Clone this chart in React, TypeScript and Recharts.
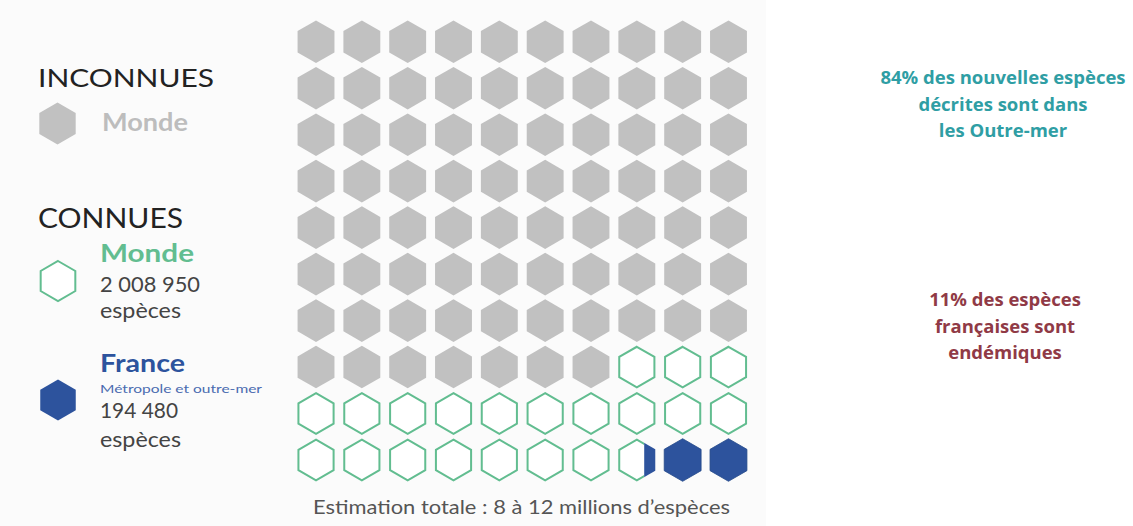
import React from 'react';
import { ScatterChart, Scatter, XAxis, YAxis } from 'recharts';

// ---- Data ----
const categories = ['Inconnues – Monde', 'Connues – Monde', 'Connues – France'];
const cellShares = [77, 20.7, 2.3]; // share of the 100 hexagons per category
const gridRows = 10;
const gridCols = 10;
const worldKnownLabel = '2 008 950';
const franceKnownLabel = '194 480';
const totalLabel = 'Estimation totale : 8 à 12 millions d’espèces';
const noteTeal = ['84% des nouvelles espèces', 'décrites sont dans', 'les Outre-mer'];
const noteRed = ['11% des espèces', 'françaises sont', 'endémiques'];

// ---- Styles ----
const GRAY = '#c1c1c1';
const GREEN = '#62bd90';
const BLUE = '#2d539d';
const HEX_R = 21.3;

type Cell = { col: number; row: number; kind: number; blueFrac: number };

// cells are filled from the bottom-right corner, leftwards then upwards
const franceEnd = cellShares[2];
const knownEnd = cellShares[2] + cellShares[1];
const cells: Cell[] = [];
for (let k = 0; k < gridRows * gridCols; k++) {
  const row = gridRows - 1 - Math.floor(k / gridCols);
  const col = gridCols - 1 - (k % gridCols);
  let kind = 0;
  let blueFrac = 0;
  if (k + 1 <= franceEnd) { kind = 2; blueFrac = 1; }
  else if (k < franceEnd) { kind = 1; blueFrac = franceEnd - k; }
  else if (k < knownEnd) kind = 1;
  else kind = 0;
  cells.push({ col, row, kind, blueFrac });
}

function hexPoints(cx: number, cy: number, r: number) {
  const pts: string[] = [];
  for (let i = 0; i < 6; i++) {
    const a = (Math.PI / 180) * (60 * i - 90);
    pts.push(`${(cx + r * Math.cos(a)).toFixed(2)},${(cy + r * Math.sin(a)).toFixed(2)}`);
  }
  return pts.join(' ');
}

const HexShape = (props: any) => {
  const { cx, cy, payload } = props;
  if (cx == null || cy == null) return null;
  const p = payload as Cell;
  const pts = hexPoints(cx, cy, HEX_R);
  const inner = hexPoints(cx, cy, HEX_R - 1);
  if (p.kind === 0) return <polygon points={pts} fill={GRAY} />;
  if (p.kind === 2) return <polygon points={pts} fill={BLUE} stroke="#244a8a" strokeWidth={0.8} />;
  if (p.blueFrac > 0) {
    const w = Math.sqrt(3) * HEX_R;
    const splitX = cx + w / 2 - w * p.blueFrac;
    const id = `clip-${p.row}-${p.col}`;
    return (
      <g>
        <defs>
          <clipPath id={id + 'l'}>
            <rect x={cx - HEX_R - 2} y={cy - HEX_R - 2} width={splitX - (cx - HEX_R - 2)} height={HEX_R * 2 + 4} />
          </clipPath>
          <clipPath id={id + 'r'}>
            <rect x={splitX} y={cy - HEX_R - 2} width={HEX_R * 2} height={HEX_R * 2 + 4} />
          </clipPath>
        </defs>
        <polygon points={inner} fill="#ffffff" stroke={GREEN} strokeWidth={2} clipPath={`url(#${id}l)`} />
        <polygon points={pts} fill={BLUE} clipPath={`url(#${id}r)`} />
      </g>
    );
  }
  return <polygon points={inner} fill="#ffffff" stroke={GREEN} strokeWidth={2} />;
};

const LegendHex = ({ cx, cy, kind }: { cx: number; cy: number; kind: number }) => {
  if (kind === 0) return <polygon points={hexPoints(cx, cy, 21)} fill={GRAY} />;
  if (kind === 2) return <polygon points={hexPoints(cx, cy, 20.5)} fill={BLUE} />;
  return <polygon points={hexPoints(cx, cy, 20)} fill="#ffffff" stroke={GREEN} strokeWidth={2} />;
};

const FONT = 'Lato, "Open Sans", sans-serif';
const NOTE_FONT = '"Open Sans", Lato, sans-serif';
const SG = 'spacingAndGlyphs';

export default function App() {
  return (
    <div style={{ position: 'absolute', left: 0, top: 0, width: 1133, height: 526, background: '#ffffff', overflow: 'hidden' }}>
      <div style={{ position: 'absolute', left: 0, top: 0, width: 766, height: 526, background: '#fbfbfb' }} />
      <div style={{ position: 'absolute', left: 0, top: 0 }}>
        <ScatterChart width={1133} height={526} margin={{ top: 18.5, right: 381.6, bottom: 42.75, left: 293.1 }}>
          <XAxis type="number" dataKey="col" domain={[-0.5, gridCols - 0.5]} hide />
          <YAxis type="number" dataKey="row" domain={[-0.5, gridRows - 0.5]} reversed hide />
          <Scatter name={categories.join(' / ')} data={cells} shape={HexShape} isAnimationActive={false} />
        </ScatterChart>
      </div>
      <svg width={1133} height={526} style={{ position: 'absolute', left: 0, top: 0, pointerEvents: 'none' }}>
        <g fontFamily={FONT}>
          <text x={38} y={87} fontSize={25} fill="#222" textLength={176} lengthAdjust={SG}>INCONNUES</text>
          <LegendHex cx={57.5} cy={123.5} kind={0} />
          <text x={102} y={131} fontSize={24} fill="#bdbdbd" fontWeight={700} textLength={86} lengthAdjust={SG}>Monde</text>

          <text x={38} y={228} fontSize={26} fill="#222" textLength={145} lengthAdjust={SG}>CONNUES</text>
          <LegendHex cx={58} cy={281} kind={1} />
          <text x={100} y={262} fontSize={25} fill={GREEN} fontWeight={700} textLength={94} lengthAdjust={SG}>Monde</text>
          <text x={100} y={292} fontSize={21} fill="#444" textLength={100} lengthAdjust={SG}>{worldKnownLabel}</text>
          <text x={100} y={318} fontSize={21} fill="#444" textLength={81} lengthAdjust={SG}>espèces</text>

          <LegendHex cx={58} cy={400} kind={2} />
          <text x={100} y={372} fontSize={25} fill={BLUE} fontWeight={700} textLength={85} lengthAdjust={SG}>France</text>
          <text x={100} y={393} fontSize={12} fill="#4a6bb0" textLength={162} lengthAdjust={SG}>Métropole et outre-mer</text>
          <text x={100} y={418} fontSize={21} fill="#444" textLength={78} lengthAdjust={SG}>{franceKnownLabel}</text>
          <text x={100} y={447} fontSize={21} fill="#444" textLength={81} lengthAdjust={SG}>espèces</text>

          <text x={521.5} y={514} fontSize={19} fill="#555" textAnchor="middle" textLength={417} lengthAdjust={SG}>{totalLabel}</text>
        </g>
        <g fontFamily={NOTE_FONT} fontWeight={700} fontSize={18.5} textAnchor="middle">
          {noteTeal.map((t, i) => (
            <text key={t} x={1003} y={84 + i * 26.5} fill="#2f9ea4">{t}</text>
          ))}
          {noteRed.map((t, i) => (
            <text key={t} x={1005} y={306 + i * 26.5} fill="#903a46">{t}</text>
          ))}
        </g>
      </svg>
    </div>
  );
}
